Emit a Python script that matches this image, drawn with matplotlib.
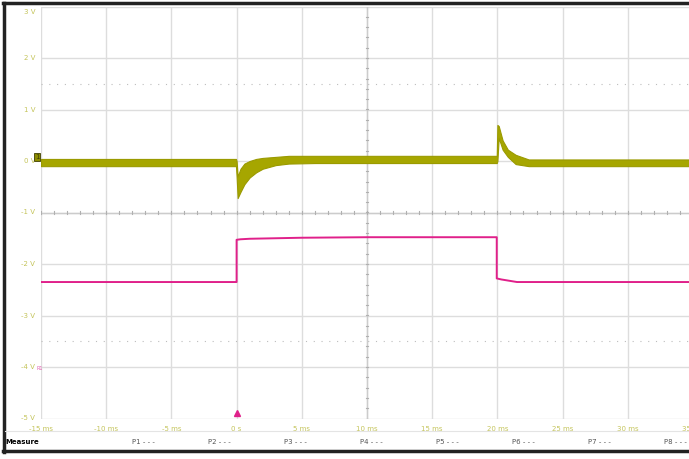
import numpy as np
import matplotlib.pyplot as plt
from matplotlib.lines import Line2D

# ---------- trace data (ms, V) ----------
yellow_t = [-15, -0.05, 0.0, 0.08, 0.3, 0.6, 1.0, 1.5, 2.0, 3.0, 4.0, 6.0,
            19.95, 20.0, 20.1, 20.4, 20.8, 21.4, 22.4, 24.0, 34.7]
yellow_lo = [-0.10, -0.10, -0.30, -0.72, -0.60, -0.45, -0.32, -0.22, -0.15, -0.08, -0.05, -0.04,
             -0.04, 0.00, 0.45, 0.22, 0.08, -0.06, -0.10, -0.10, -0.10]
yellow_hi = [0.04, 0.04, 0.00, -0.30, -0.15, -0.05, 0.00, 0.04, 0.06, 0.08, 0.10, 0.10,
             0.10, 0.70, 0.68, 0.40, 0.22, 0.12, 0.03, 0.03, 0.03]

pink_t = [-15, 0.0, 0.0, 0.3, 1.0, 5.0, 10.0, 19.95, 19.95, 20.3, 21.5, 34.7]
pink_v = [-2.35, -2.35, -1.53, -1.52, -1.51, -1.49, -1.48, -1.48, -2.28, -2.30, -2.35, -2.35]

x_ticks = [-15, -10, -5, 0, 5, 10, 15, 20, 25, 30, 35]
x_labels = ["-15 ms", "-10 ms", "-5 ms", "0 s", "5 ms", "10 ms", "15 ms", "20 ms", "25 ms", "30 ms", "35 ms"]
y_ticks = [3, 2, 1, 0, -1, -2, -3, -4, -5]
y_labels = ["3 V", "2 V", "1 V", "0 V", "-1 V", "-2 V", "-3 V", "-4 V", "-5 V"]
measure_slots = ["P1", "P2", "P3", "P4", "P5", "P6", "P7", "P8"]

W, H = 689, 459
fig = plt.figure(figsize=(W / 100, H / 100), dpi=100)
fig.patch.set_facecolor("white")

def fx(px):
    return px / W

def fy(py):
    return 1 - py / H

# plot area: x from 41 px to right edge, y from 6.5 px (3 V) to 418.5 px (-5 V)
ax = fig.add_axes([fx(41), fy(418.5), fx(W - 41), fy(6.5) - fy(418.5)])
ax.set_xlim(-15, -15 + (W - 41) / 13.04)
ax.set_ylim(-5, 3)
for s in ax.spines.values():
    s.set_visible(False)
ax.set_xticks([])
ax.set_yticks([])

grid_c = "#dddddd"
for xv in x_ticks:
    ax.axvline(xv, color=grid_c, lw=1.0, zorder=0)
for yv in y_ticks:
    ax.axhline(yv, color=grid_c, lw=1.0, zorder=0)

# centre crosshair with small minor ticks
ax.axhline(-1, color="#cccccc", lw=1.0, zorder=0)
ax.axvline(10, color="#cccccc", lw=1.0, zorder=0)
for xv in np.arange(-15, 35, 1.0):
    ax.plot([xv, xv], [-1.03, -0.97], color="#b0b0b0", lw=0.8, zorder=0)
for yv in np.arange(-5, 3.01, 0.2):
    ax.plot([9.9, 10.1], [yv, yv], color="#b0b0b0", lw=0.8, zorder=0)

# dotted reference lines
for yv in [1.5, -3.5]:
    ax.axhline(yv, color="#bdbdbd", lw=0.8, ls=(0, (1, 6)), zorder=0)

# traces
ax.fill_between(yellow_t, yellow_lo, yellow_hi, color="#a6a600", lw=0.8,
                edgecolor="#9a9a00", zorder=3)
ax.plot(pink_t, pink_v, color="#e0208a", lw=1.4, zorder=4)

# tick labels
lab_c = "#c4c45a"
for xv, lab in zip(x_ticks, x_labels):
    ax.text(xv, -5.2, lab, color=lab_c, fontsize=5, ha="center", va="center", clip_on=False)
for yv, lab in zip(y_ticks, y_labels):
    yy = yv - 0.1 if yv == 3 else yv
    ax.text(-15.45, yy, lab, color=lab_c, fontsize=5, ha="right", va="center", clip_on=False)

# channel markers
fig.text(fx(37), fy(157), "1", fontsize=5, color="#404000", ha="center", va="center",
         bbox=dict(boxstyle="square,pad=0.15", fc="#8c8c00", ec="#404000", lw=0.6))
fig.text(fx(39.5), fy(369), "R1", fontsize=3.5, color="#e060b0", ha="center", va="center")
ax.plot([0], [-4.9], marker="^", color="#e0208a", ms=4, clip_on=False, zorder=5)

# measure row
fig.text(fx(5), fy(442), "Measure", fontsize=5, color="black", weight="bold", ha="left", va="center")
for i, lab in enumerate(measure_slots):
    fig.text(fx(132 + i * 76), fy(442), lab + " - - -", fontsize=5, color="#555555",
             ha="left", va="center")

# window frame
fig.add_artist(Line2D([fx(4), fx(4)], [fy(3), fy(452)], color="#222222", lw=2.5))
fig.add_artist(Line2D([fx(3), fx(W)], [fy(3), fy(3)], color="#222222", lw=2.5))
fig.add_artist(Line2D([fx(3), fx(W)], [fy(451), fy(451)], color="#222222", lw=2.5))
fig.add_artist(Line2D([fx(5), fx(W)], [fy(431), fy(431)], color="#e4e4e4", lw=0.8))

fig.savefig("out.png", dpi=100)
